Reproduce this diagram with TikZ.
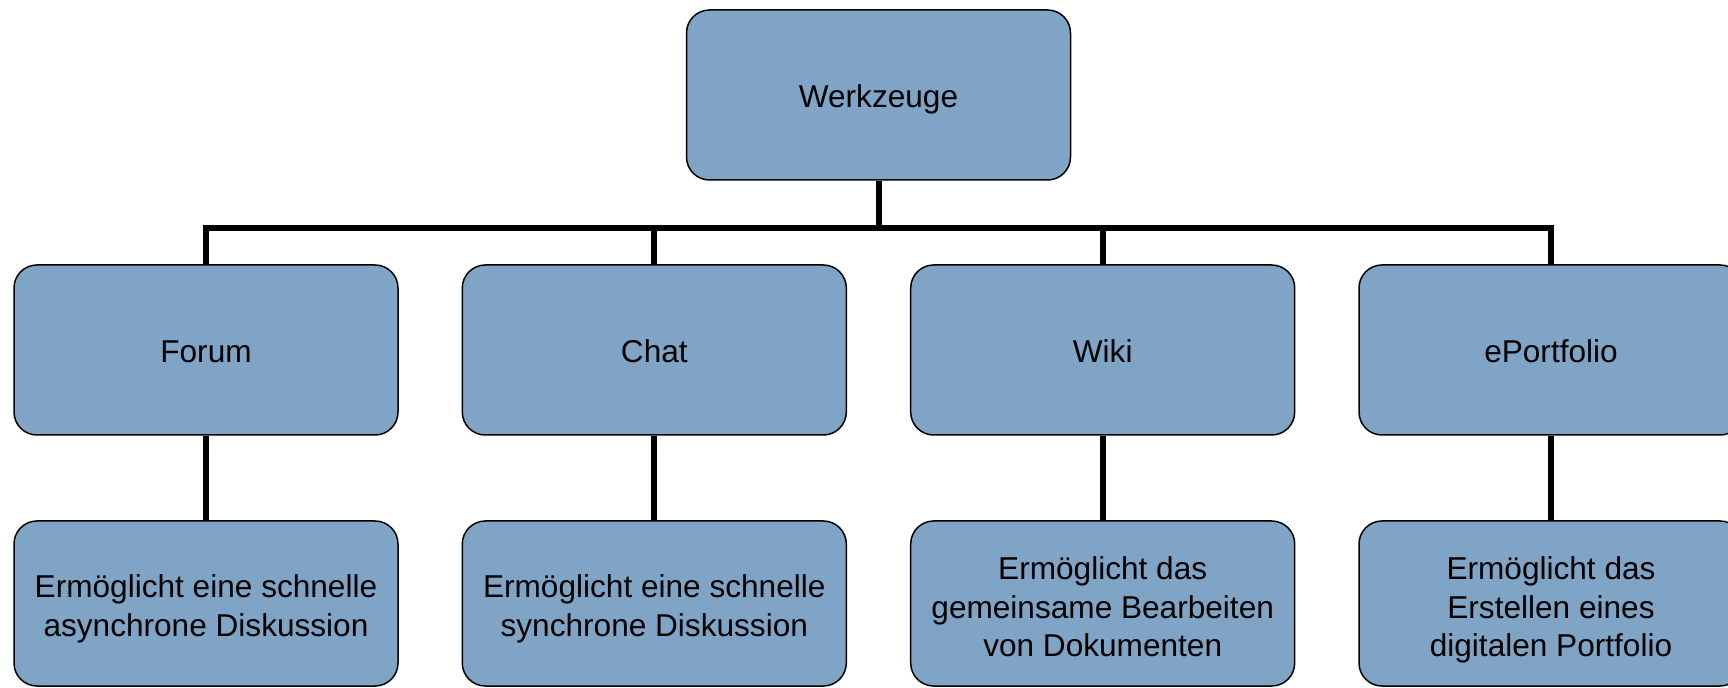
\documentclass[tikz,border=0pt]{standalone}
\usepackage{fontspec}
\setmainfont{Liberation Sans}
\definecolor{boxblue}{RGB}{127,164,198}
\tikzset{
  box-base/.style={
    rectangle,
    rounded corners=11.5pt,
    draw=black,
    line width=0.75pt,
    fill=boxblue,
    minimum width=192pt,
    minimum height=85pt,
    align=center,
    inner sep=2pt,
    font=\fontsize{15.8}{19.2}\selectfont
  },
  box-node/.style={box-base, text height=12.8pt, text depth=0pt},
  box-low/.style={box-base, minimum height=82.5pt},
  two-lines/.style={text height=32.6pt, text depth=0pt},
  three-lines/.style={text height=53.2pt, text depth=0pt},
  conn-thick/.style={draw=black, line width=3pt}
}

\begin{document}
\begin{tikzpicture}[x=0.5pt, y=-0.5pt]
  \useasboundingbox (0,0) rectangle (1728,688);

  \node[box-node] (werkzeuge) at (878.5,95) {Werkzeuge};

  \node[box-node] (forum) at (206,350) {Forum};
  \node[box-node] (chat) at (654.3,350) {Chat};
  \node[box-node] (wiki) at (1102.7,350) {Wiki};
  \node[box-node] (eportfolio) at (1551,350) {ePortfolio};

  \node[box-low, two-lines] (forum-text) at (206,603.5) {Ermöglicht eine schnelle\\asynchrone Diskussion};
  \node[box-low, two-lines] (chat-text) at (654.3,603.5) {Ermöglicht eine schnelle\\synchrone Diskussion};
  \node[box-low, three-lines] (wiki-text) at (1102.7,603.5) {Ermöglicht das\\gemeinsame Bearbeiten\\von Dokumenten};
  \node[box-low, three-lines] (eportfolio-text) at (1551,603.5) {Ermöglicht das\\Erstellen eines\\digitalen Portfolio};

  % tree connectors
  \coordinate (bar) at (878.5,228);
  \draw[conn-thick] (werkzeuge.south) -- (bar);
  \foreach \n in {forum,chat,wiki,eportfolio} {
    \draw[conn-thick] (bar) -| (\n.north);
    \draw[conn-thick] (\n.south) -- (\n-text.north);
  }
\end{tikzpicture}
\end{document}
